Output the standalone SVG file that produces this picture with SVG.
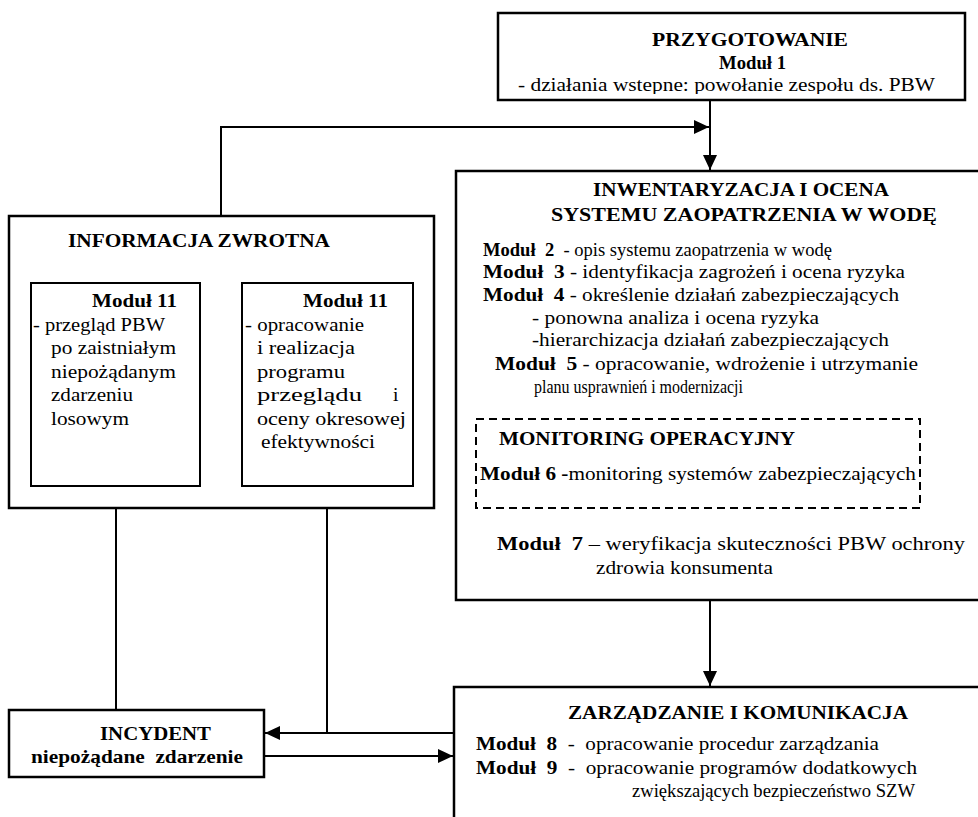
<svg xmlns="http://www.w3.org/2000/svg" width="978" height="817" viewBox="0 0 978 817">
<style>
  .box{fill:#fff;stroke:#000;stroke-width:2.5}
  .ibox{fill:#fff;stroke:#000;stroke-width:2}
  .dash{fill:none;stroke:#000;stroke-width:2;stroke-dasharray:8 5}
  .con{fill:none;stroke:#000;stroke-width:2}
  .t{font-family:"Liberation Serif","Times New Roman",Times,"DejaVu Serif",serif;font-size:19.5px;fill:#000;white-space:pre}
  .b{font-weight:bold}
</style>
<defs>
  <marker id="arr" markerUnits="userSpaceOnUse" markerWidth="15" markerHeight="14" refX="15" refY="7" orient="auto">
    <path d="M0,0 L15,7 L0,14 z" fill="#000"/>
  </marker>
  <clipPath id="clipTop"><rect x="498" y="13" width="467" height="81"/></clipPath>
</defs>
<rect width="978" height="817" fill="#fff"/>

<g id="connectors">
  <path class="con" d="M710,100 V170" marker-end="url(#arr)"/>
  <path class="con" d="M221,216 V127 H709" marker-end="url(#arr)"/>
  <path class="con" d="M710,600 V686" marker-end="url(#arr)"/>
  <path class="con" d="M116,710 V487" marker-end="url(#arr)"/>
  <path class="con" d="M327,733 V487" marker-end="url(#arr)"/>
  <path class="con" d="M454,733 H265" marker-end="url(#arr)"/>
  <path class="con" d="M264,756 H453" marker-end="url(#arr)"/>
</g>

<g id="przygotowanie">
  <rect class="box" x="498" y="13" width="467" height="87"/>
  <text class="t b" x="652" y="46" textLength="196" lengthAdjust="spacingAndGlyphs">PRZYGOTOWANIE</text>
  <text class="t b" x="719" y="69" textLength="67" lengthAdjust="spacingAndGlyphs">Moduł 1</text>
  <text class="t" x="518" y="91" textLength="417" lengthAdjust="spacingAndGlyphs" clip-path="url(#clipTop)">- działania wstepne: powołanie zespołu ds. PBW</text>
</g>

<g id="informacja">
  <rect class="box" x="9" y="216" width="425" height="292"/>
  <text class="t b" x="68" y="247" textLength="262" lengthAdjust="spacingAndGlyphs">INFORMACJA ZWROTNA</text>
</g>

<g id="modul11a">
  <rect class="ibox" x="31" y="283" width="169" height="203"/>
  <text class="t b" x="92" y="307" textLength="85" lengthAdjust="spacingAndGlyphs">Moduł 11</text>
  <text class="t" x="33" y="331" textLength="132" lengthAdjust="spacingAndGlyphs">- przegląd PBW</text>
  <text class="t" x="51" y="354" textLength="125" lengthAdjust="spacingAndGlyphs">po zaistniałym</text>
  <text class="t" x="51" y="378" textLength="125" lengthAdjust="spacingAndGlyphs">niepożądanym</text>
  <text class="t" x="51" y="401" textLength="82" lengthAdjust="spacingAndGlyphs">zdarzeniu</text>
  <text class="t" x="51" y="425" textLength="78" lengthAdjust="spacingAndGlyphs">losowym</text>
</g>

<g id="modul11b">
  <rect class="ibox" x="242" y="283" width="171" height="203"/>
  <text class="t b" x="303" y="307" textLength="85" lengthAdjust="spacingAndGlyphs">Moduł 11</text>
  <text class="t" x="245" y="331" textLength="119" lengthAdjust="spacingAndGlyphs">- opracowanie</text>
  <text class="t" x="257" y="354" textLength="98" lengthAdjust="spacingAndGlyphs">i realizacja</text>
  <text class="t" x="257" y="378" textLength="88" lengthAdjust="spacingAndGlyphs">programu</text>
  <text class="t" x="257" y="401"><tspan textLength="105" lengthAdjust="spacingAndGlyphs">przeglądu</tspan>  <tspan x="393">i</tspan></text>
  <text class="t" x="257" y="425" textLength="149" lengthAdjust="spacingAndGlyphs">oceny okresowej</text>
  <text class="t" x="261" y="448" textLength="114" lengthAdjust="spacingAndGlyphs">efektywności</text>
</g>

<g id="inwentaryzacja">
  <rect class="box" x="456" y="171" width="540" height="429"/>
  <text class="t b" x="593" y="196" textLength="296" lengthAdjust="spacingAndGlyphs">INWENTARYZACJA I OCENA</text>
  <text class="t b" x="551" y="221" textLength="386" lengthAdjust="spacingAndGlyphs">SYSTEMU ZAOPATRZENIA W WODĘ</text>
  <text class="t" x="483" y="256" textLength="349" lengthAdjust="spacingAndGlyphs"><tspan class="b">Moduł  2</tspan>  - opis systemu zaopatrzenia w wodę</text>
  <text class="t" x="483" y="278" textLength="422" lengthAdjust="spacingAndGlyphs"><tspan class="b">Moduł  3</tspan> - identyfikacja zagrożeń i ocena ryzyka</text>
  <text class="t" x="483" y="301" textLength="416" lengthAdjust="spacingAndGlyphs"><tspan class="b">Moduł  4</tspan> - określenie działań zabezpieczających</text>
  <text class="t" x="532" y="324" textLength="287" lengthAdjust="spacingAndGlyphs">- ponowna analiza i ocena ryzyka</text>
  <text class="t" x="532" y="346" textLength="357" lengthAdjust="spacingAndGlyphs">-hierarchizacja działań zabezpieczających</text>
  <text class="t" x="495" y="370" textLength="423" lengthAdjust="spacingAndGlyphs"><tspan class="b">Moduł  5</tspan> - opracowanie, wdrożenie i utrzymanie</text>
  <text class="t" x="534" y="393" textLength="209" lengthAdjust="spacingAndGlyphs">planu usprawnień i modernizacji</text>
  <text class="t" x="497" y="550" textLength="468" lengthAdjust="spacingAndGlyphs"><tspan class="b">Moduł  7</tspan> – weryfikacja skuteczności PBW ochrony</text>
  <text class="t" x="596" y="574" textLength="177" lengthAdjust="spacingAndGlyphs">zdrowia konsumenta</text>
</g>

<g id="monitoring">
  <rect class="dash" x="476" y="419" width="444" height="89"/>
  <text class="t b" x="499" y="445" textLength="296" lengthAdjust="spacingAndGlyphs">MONITORING OPERACYJNY</text>
  <text class="t" x="480" y="480" textLength="436" lengthAdjust="spacingAndGlyphs"><tspan class="b">Moduł 6 -</tspan>monitoring systemów zabezpieczających</text>
</g>

<g id="incydent">
  <rect class="box" x="9" y="710" width="255" height="67"/>
  <text class="t b" x="100" y="740" textLength="111" lengthAdjust="spacingAndGlyphs">INCYDENT</text>
  <text class="t b" x="31" y="763" textLength="212" lengthAdjust="spacingAndGlyphs">niepożądane  zdarzenie</text>
</g>

<g id="zarzadzanie">
  <rect class="box" x="454" y="687" width="540" height="150"/>
  <text class="t b" x="568" y="719" textLength="340" lengthAdjust="spacingAndGlyphs">ZARZĄDZANIE I KOMUNIKACJA</text>
  <text class="t" x="476" y="750" textLength="403" lengthAdjust="spacingAndGlyphs"><tspan class="b">Moduł  8</tspan>  -  opracowanie procedur zarządzania</text>
  <text class="t" x="476" y="774" textLength="441" lengthAdjust="spacingAndGlyphs"><tspan class="b">Moduł  9</tspan>  -  opracowanie programów dodatkowych</text>
  <text class="t" x="632" y="797" textLength="283" lengthAdjust="spacingAndGlyphs">zwiększających bezpieczeństwo SZW</text>
</g>
</svg>
